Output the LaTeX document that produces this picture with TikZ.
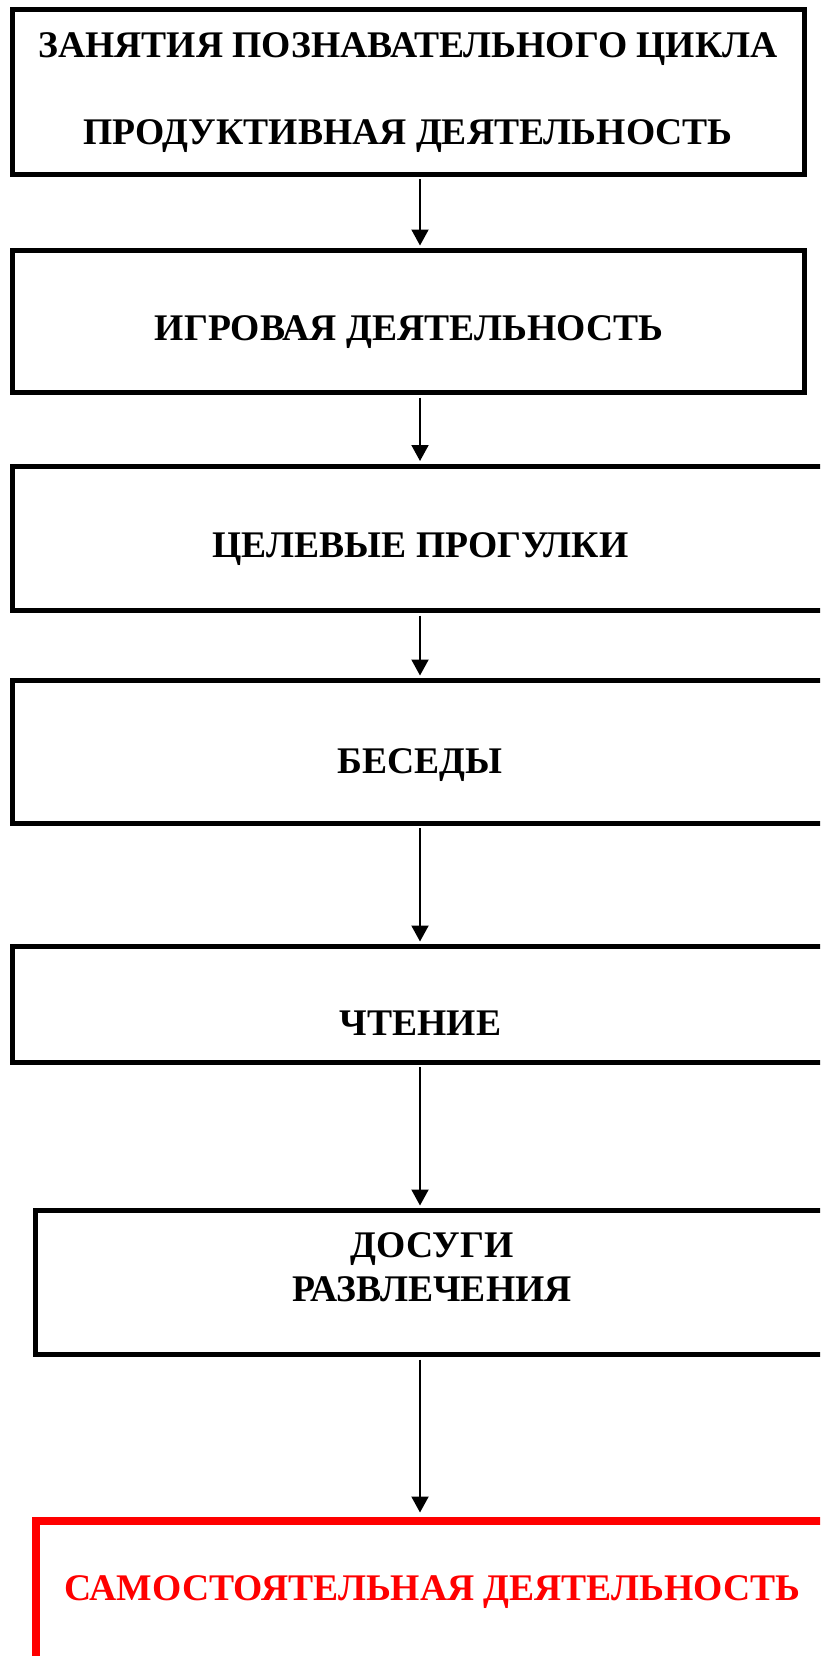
\documentclass[tikz,border=0pt]{standalone}
\usepackage{fontspec}
\setmainfont{Liberation Serif}
\usetikzlibrary{arrows.meta}
\begin{document}
\begin{tikzpicture}[x=1pt,y=-1pt,
  box/.style={draw=black,line width=5pt,rectangle,inner sep=0pt,fill=none},
  redbox/.style={draw=red,line width=8pt,rectangle,inner sep=0pt,fill=none},
  lbl/.style={anchor=base,inner sep=0pt,font=\fontsize{37.6}{45}\selectfont\bfseries},
  arr/.style={line width=2pt,-{Triangle[length=16pt,width=17pt]},shorten >=2.5pt,shorten <=2.5pt}]
\useasboundingbox (0,0) rectangle (820,1656);
\clip (0,0) rectangle (820,1656);
\fill[white] (0,0) rectangle (820,1656);
\coordinate (axis) at (420,0);
% boxes
\node[box,minimum width=792.5pt,minimum height=164.5pt] (b1) at (408.25,92.25) {};
\node[box,minimum width=792pt,minimum height=142pt] (b2) at (408,321.5) {};
\node[box,minimum width=816pt,minimum height=144.5pt] (b3) at (420,538.25) {};
\node[box,minimum width=816pt,minimum height=142.5pt] (b4) at (420,751.75) {};
\node[box,minimum width=816pt,minimum height=115.5pt] (b5) at (420,1004.25) {};
\node[box,minimum width=793pt,minimum height=144pt] (b6) at (432,1282.5) {};
\node[redbox,minimum width=792pt,minimum height=200pt] (b7) at (432,1620.5) {};
% texts
\node[lbl] (t1a) at (408,57.5) {ЗАНЯТИЯ ПОЗНАВАТЕЛЬНОГО ЦИКЛА};
\node[lbl] (t1b) at (408,145) {ПРОДУКТИВНАЯ ДЕЯТЕЛЬНОСТЬ};
\node[lbl] (t2) at (409,340.5) {ИГРОВАЯ ДЕЯТЕЛЬНОСТЬ};
\node[lbl] (t3) at (420.5,557) {ЦЕЛЕВЫЕ ПРОГУЛКИ};
\node[lbl] (t4) at (420,773) {БЕСЕДЫ};
\node[lbl] (t5) at (420.5,1035) {ЧТЕНИЕ};
\node[lbl] (t6a) at (432,1257) {ДОСУГИ};
\node[lbl] (t6b) at (432,1301) {РАЗВЛЕЧЕНИЯ};
\node[lbl,text=red] (t7) at (432.5,1600.5) {САМОСТОЯТЕЛЬНАЯ ДЕЯТЕЛЬНОСТЬ};
% arrows
\draw[arr] (b1.south -| axis) -- (b2.north -| axis);
\draw[arr] (b2.south -| axis) -- (b3.north -| axis);
\draw[arr] (b3.south -| axis) -- (b4.north -| axis);
\draw[arr] (b4.south -| axis) -- (b5.north -| axis);
\draw[arr] (b5.south -| axis) -- (b6.north -| axis);
\draw[arr,shorten >=4pt] (b6.south -| axis) -- (b7.north -| axis);
\end{tikzpicture}
\end{document}
